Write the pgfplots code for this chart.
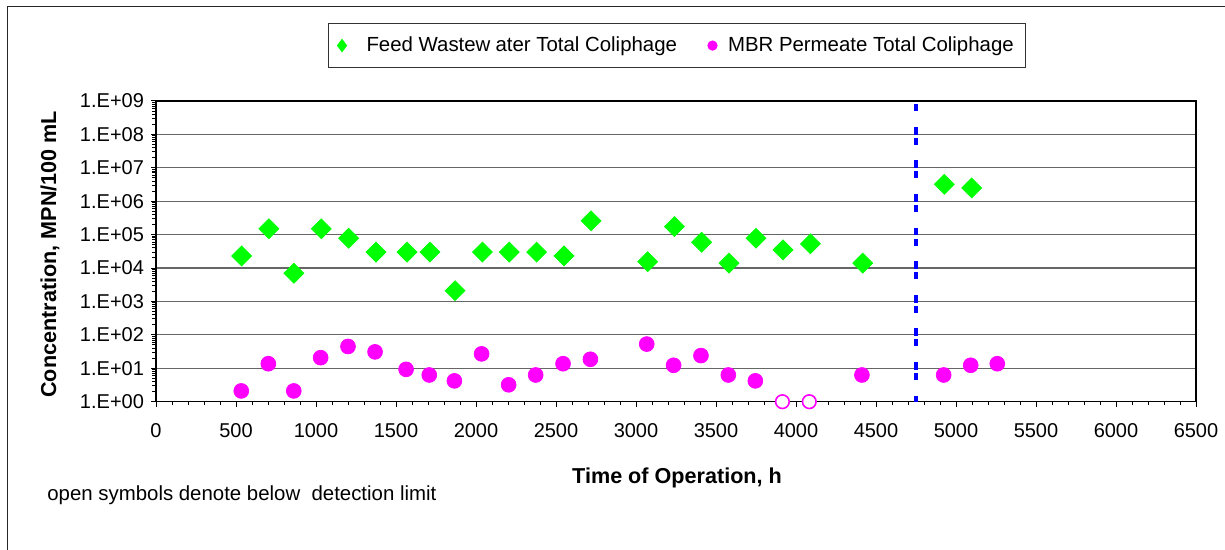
\documentclass[border=0pt]{standalone}
\usepackage{fontspec}
\setmainfont{Liberation Sans}
\usepackage{pgfplots}
\pgfplotsset{compat=1.18}
\definecolor{fgreen}{RGB}{0,255,0}
\definecolor{pmag}{RGB}{255,0,255}
\definecolor{vblue}{RGB}{0,0,255}
\begin{document}
\begin{tikzpicture}
\useasboundingbox (0,0) rectangle (612.5pt,275pt);
\draw[black!85, line width=0.5pt] (3.5pt,-20pt) -- (3.5pt,271.5pt) -- (650pt,271.5pt);
\begin{axis}[
  at={(78pt,74.15pt)}, anchor=south west,
  scale only axis, width=520pt, height=150.35pt,
  ymode=log, xmin=0, xmax=6500, ymin=1, ymax=1e9,
  xtick={0,500,...,6500}, minor x tick num=4,
  ytick={1,10,100,1000,1e4,1e5,1e6,1e7,1e8,1e9},
  yticklabels={1.E+00,1.E+01,1.E+02,1.E+03,1.E+04,1.E+05,1.E+06,1.E+07,1.E+08,1.E+09},
  extra y ticks={2,3,4,5,6,7,8,9,20,30,40,50,60,70,80,90,200,300,400,500,600,700,800,900,2e3,3e3,4e3,5e3,6e3,7e3,8e3,9e3,2e4,3e4,4e4,5e4,6e4,7e4,8e4,9e4,2e5,3e5,4e5,5e5,6e5,7e5,8e5,9e5,2e6,3e6,4e6,5e6,6e6,7e6,8e6,9e6,2e7,3e7,4e7,5e7,6e7,7e7,8e7,9e7,2e8,3e8,4e8,5e8,6e8,7e8,8e8,9e8},
  extra y tick labels={},
  extra y tick style={major tick length=1.6pt, grid=none},
  tick align=outside, xtick pos=left, ytick pos=left,
  major tick length=2.5pt, minor tick length=1.8pt,
  tick style={black, line width=0.5pt},
  ymajorgrids, major grid style={black!60, line width=0.6pt},
  axis line style={black, line width=0.6pt},
  scaled ticks=false,
  /pgf/number format/assume math mode=true,
  /pgf/number format/1000 sep={},
  ticklabel style={font=\fontsize{10}{12}\selectfont},
  xticklabel style={yshift=-5pt},
  xlabel={Time of Operation, h},
  ylabel={Concentration, MPN/100 mL},
  label style={font=\bfseries\fontsize{10.8}{13}\selectfont},
  xlabel style={at={(axis description cs:0.501,-0.252)}, anchor=center},
  ylabel style={at={(axis description cs:-0.102,0.49)}, anchor=center},
  legend columns=2,
  legend style={at={(axis description cs:0.1654,1.2594)}, anchor=north west,
    draw=black!80, line width=0.5pt, inner xsep=0pt, inner ysep=6.6pt,
    font=\fontsize{10.2}{12}\selectfont, nodes={inner sep=0pt}, column sep=0pt},
]
\addplot[vblue, line width=2pt, dash pattern=on 3.9pt off 1.6pt on 3.5pt off 7.8pt, dash phase=3.9pt, forget plot]
  coordinates {(4750,1e9) (4750,1)};
\addplot[only marks, mark=square*, mark size=3.5pt, mark options={rotate=45, fill=fgreen, draw=fgreen},
  legend image code/.code={\path (0pt,-3pt) (18.5pt,3pt); \path plot[mark=diamond*, mark size=3pt, mark options={rotate=0, fill=fgreen, draw=fgreen}] coordinates {(6.5pt,0pt)};}]
  table {
x y
535 2.3e4
706 1.5e5
862 7e3
1033 1.5e5
1204 7.8e4
1375 3e4
1569 3e4
1712 3e4
1869 2.1e3
2040 3e4
2208 3e4
2379 3e4
2550 2.3e4
2719 2.6e5
3073 1.55e4
3240 1.74e5
3410 5.9e4
3581 1.4e4
3750 7.8e4
3919 3.5e4
4090 5.3e4
4417 1.4e4
4927 3.2e6
5098 2.5e6
};
\addlegendentry{Feed Wastew\kern0.25em ater Total Coliphage}
\addplot[only marks, mark=*, mark size=3.7pt, mark options={fill=pmag, draw=pmag},
  legend image code/.code={\path (0pt,-3pt) (25pt,3pt); \path plot[mark=*, mark size=2.3pt, mark options={fill=pmag, draw=pmag}] coordinates {(17.5pt,0pt)};}]
  table {
x y
533 2.1
702 13.7
861 2.1
1029 20.8
1200 45
1369 31
1563 9.3
1708 6.3
1865 4.2
2035 27
2204 3.2
2373 6.3
2544 13.7
2715 18.6
3067 53
3235 12.3
3406 24
3577 6.3
3746 4.2
4412 6.3
4923 6.3
5092 12.3
5258 13.7
};
\addlegendentry{MBR Permeate Total Coliphage\rule{6pt}{0pt}}
\addplot[only marks, mark=*, mark size=3.4pt, mark options={fill=white, draw=pmag, line width=0.8pt}, forget plot]
  table {
x y
3915 1
4083 1
};
\end{axis}
\node[anchor=west, inner sep=0pt, font=\fontsize{10.2}{12}\selectfont] at (23.5pt,27.5pt) {open symbols denote below\ \ detection limit};
\end{tikzpicture}
\end{document}
